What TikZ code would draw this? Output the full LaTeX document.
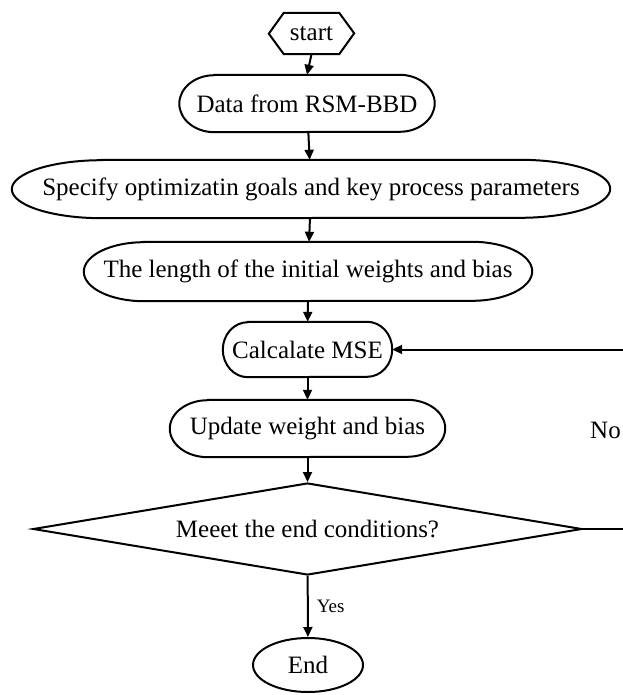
\documentclass[tikz,border=0pt]{standalone}
\usepackage{fontspec}
\setmainfont{Liberation Serif}
\usetikzlibrary{arrows.meta,shapes.geometric}

% Terminator outline around a (borderless) rectangular node:
% #1 node name, #2 horizontal radius of the rounded ends, #3 half height
\newcommand\termoutline[3]{%
  \draw[outline] ([xshift=#2pt]#1.north west) -- ([xshift=-#2pt]#1.north east)
    arc[start angle=90, end angle=-90, x radius=#2pt, y radius=#3pt]
    -- ([xshift=#2pt]#1.south west)
    arc[start angle=270, end angle=90, x radius=#2pt, y radius=#3pt] -- cycle;}

\tikzset{
  outline/.style={line width=2pt, black},
  bigtext/.style={font=\fontsize{25}{29}\selectfont},
  termbox/.style={rectangle, draw=none, inner sep=0pt, bigtext},
  arr/.style={line width=2pt, -{Triangle[length=10pt,width=9pt]}},
  lbl/.style={bigtext, inner sep=0pt},
}

\begin{document}
\begin{tikzpicture}[x=1pt,y=1pt]
  \useasboundingbox (0,0) rectangle (622,-695);

  % start: hexagon
  \node[termbox, minimum width=55pt, minimum height=41pt] (start) at (311.5,-33.5) {start};
  \draw[outline] (start.north west) -- (start.north east) -- ++(15,-20.5)
    -- (start.south east) -- (start.south west) -- ++(-15,20.5) -- cycle;

  % process steps
  \node[termbox, minimum width=255pt, minimum height=57pt] (data) at (307,-103.5) {Data from RSM-BBD};
  \termoutline{data}{35}{28.5}

  \node[termbox, minimum width=598pt, minimum height=58pt] (spec) at (311,-189) {Specify optimizatin goals and key process parameters};
  \termoutline{spec}{90}{29}

  \node[termbox, minimum width=448pt, minimum height=59pt] (len) at (308,-271.5) {The length of the initial weights and bias};
  \termoutline{len}{60}{29.5}

  \node[termbox, minimum width=169pt, minimum height=55pt] (mse) at (307.5,-349.5) {Calcalate MSE};
  \termoutline{mse}{25}{27.5}

  \node[termbox, minimum width=275pt, minimum height=57pt] (upd) at (307.5,-428.5) {Update weight and bias};
  \termoutline{upd}{38}{28.5}

  % decision
  \node[diamond, shape aspect=6, draw, outline, inner sep=0pt, minimum width=549pt, minimum height=92pt,
        bigtext] (cond) at (307.5,-529) {Meeet the end conditions?};

  % end
  \node[ellipse, draw, outline, inner sep=0pt, minimum width=110pt, minimum height=54pt,
        bigtext] (stop) at (308,-665) {End};

  % connectors
  \draw[arr] (start.south) -- (data.north);
  \draw[arr] (data) -- (spec);
  \draw[arr] (spec) -- (len);
  \draw[arr] (len) -- (mse);
  \draw[arr] (mse) -- (upd);
  \draw[arr] (upd) -- (cond);
  \draw[arr] (cond) -- node[pos=0.5, right=8pt, inner sep=0pt, font=\fontsize{19}{22}\selectfont] (yes) {Yes} (stop);

  \coordinate (loop) at (630,-529);
  \draw[arr] (cond.east) -- (loop) |- (mse.east);
  \node[lbl, anchor=west] (no) at (590,-430) {No};
\end{tikzpicture}
\end{document}
